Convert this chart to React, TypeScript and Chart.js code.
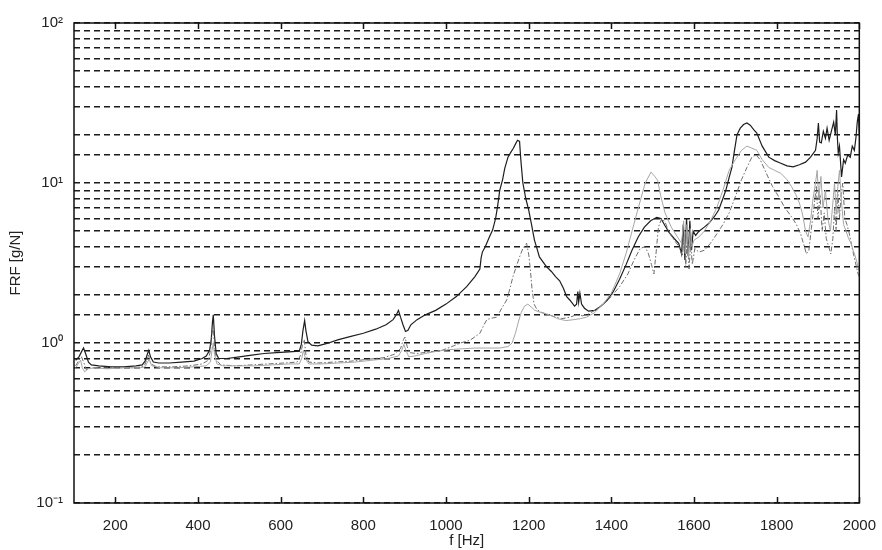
import { useEffect, useRef } from 'react';
import { Chart, registerables } from 'chart.js';

Chart.register(...registerables);

// x axis tick values (Hz)
const xTickValues = [200, 400, 600, 800, 1000, 1200, 1400, 1600, 1800, 2000];
// y axis decades and their labels
const yDecades = [0.1, 1, 10, 100];
const yDecadeLabels = ['10⁻¹', '10⁰', '10¹', '10²'];

// Series values: [frequency Hz, FRF g/N]
const frfBlack: [number, number][] = [
  [104, 0.78], [112, 0.82], [118, 0.88], [123, 0.93], [128, 0.86], [135, 0.76], [142, 0.73], [160, 0.72],
  [190, 0.71], [220, 0.71], [250, 0.72], [265, 0.73], [272, 0.77], [278, 0.86], [281, 0.9], [285, 0.82],
  [292, 0.76], [305, 0.75], [330, 0.75], [360, 0.76], [390, 0.77], [410, 0.8], [420, 0.83], [428, 0.9],
  [432, 1.05], [435, 1.35], [437, 1.5], [440, 1.1], [444, 0.86], [450, 0.8], [470, 0.8], [500, 0.82],
  [530, 0.84], [560, 0.86], [590, 0.87], [620, 0.88], [645, 0.89], [650, 0.98], [654, 1.2], [658, 1.38],
  [661, 1.2], [666, 1.02], [675, 0.97], [690, 0.96], [710, 0.99], [740, 1.05], [770, 1.1], [800, 1.15],
  [830, 1.22], [855, 1.3], [872, 1.4], [880, 1.5], [885, 1.6], [890, 1.45], [896, 1.3], [902, 1.18],
  [908, 1.2], [915, 1.3], [930, 1.4], [950, 1.5], [975, 1.6], [1000, 1.75], [1025, 1.95], [1050, 2.25],
  [1070, 2.6], [1082, 2.9], [1085, 3.4], [1088, 3.7], [1095, 4.0], [1105, 4.6], [1113, 5.1], [1120, 6.0],
  [1125, 7.2], [1130, 9.0], [1137, 10.5], [1142, 12.3], [1150, 14.5], [1157, 15.6], [1163, 16.5], [1168, 17.5],
  [1173, 18.5], [1178, 18.2], [1181, 14], [1186, 10], [1193, 8], [1200, 6.8], [1207, 5.5], [1214, 4.4],
  [1220, 3.9], [1226, 3.45], [1235, 3.2], [1243, 3.0], [1255, 2.8], [1265, 2.6], [1275, 2.45], [1284, 2.2],
  [1292, 1.95], [1300, 1.85], [1311, 1.7], [1316, 1.75], [1319, 2.1], [1321, 1.8], [1324, 2.05], [1328, 1.75],
  [1335, 1.65], [1345, 1.58], [1360, 1.6], [1375, 1.7], [1390, 1.85], [1405, 2.1], [1420, 2.5], [1436, 3.1],
  [1450, 3.8], [1465, 4.6], [1480, 5.3], [1495, 5.8], [1510, 6.1], [1520, 6.0], [1530, 5.4], [1540, 4.9],
  [1552, 4.5], [1563, 4.2], [1570, 3.6], [1574, 5.5], [1578, 3.3], [1582, 6.0], [1586, 3.5], [1590, 5.8],
  [1594, 3.8], [1598, 5.0], [1604, 4.7], [1612, 5.0], [1625, 5.3], [1636, 5.6], [1650, 6.2], [1660, 6.8],
  [1670, 8.0], [1677, 9.0], [1685, 10.8], [1692, 12.6], [1698, 16], [1704, 20], [1712, 22], [1720, 23.2],
  [1728, 23.7], [1736, 23], [1745, 21.5], [1752, 20.5], [1765, 17], [1781, 14.5], [1795, 13.8], [1810, 13.3],
  [1825, 12.8], [1840, 12.6], [1855, 13], [1870, 13.5], [1882, 14.5], [1894, 16], [1898, 19], [1901, 23.7],
  [1904, 18], [1908, 17.8], [1913, 21], [1918, 19], [1922, 22], [1927, 18.5], [1933, 21.4], [1938, 24],
  [1942, 20], [1945, 28.6], [1947, 19], [1949, 15.4], [1952, 17], [1957, 10.9], [1962, 14], [1966, 13.3],
  [1972, 15], [1978, 14.5], [1983, 17], [1988, 16], [1992, 19.4], [1995, 24], [1998, 27], [2000, 20],
];

const frfDashDot: [number, number][] = [
  [104, 0.72], [112, 0.78], [118, 0.82], [124, 0.75], [130, 0.68], [140, 0.7], [170, 0.7], [210, 0.7],
  [250, 0.7], [270, 0.72], [276, 0.78], [280, 0.84], [286, 0.74], [300, 0.71], [340, 0.71], [380, 0.72],
  [410, 0.74], [425, 0.78], [431, 0.92], [434, 1.15], [437, 1.25], [440, 0.95], [445, 0.78], [455, 0.73],
  [490, 0.72], [530, 0.73], [570, 0.74], [610, 0.75], [640, 0.76], [648, 0.84], [653, 0.98], [657, 1.05],
  [661, 0.85], [668, 0.76], [690, 0.75], [730, 0.76], [770, 0.77], [810, 0.79], [850, 0.81], [875, 0.85],
  [890, 0.92], [897, 1.05], [901, 1.09], [906, 0.95], [912, 0.87], [930, 0.86], [960, 0.88], [990, 0.9],
  [1010, 0.94], [1035, 1.0], [1058, 1.04], [1082, 1.15], [1092, 1.3], [1099, 1.4], [1110, 1.43], [1123, 1.45],
  [1135, 1.65], [1147, 1.86], [1155, 2.2], [1162, 2.6], [1170, 3.0], [1178, 3.45], [1186, 3.9], [1195, 4.2],
  [1200, 3.6], [1204, 2.9], [1208, 2.2], [1213, 1.75], [1220, 1.62], [1232, 1.55], [1250, 1.5], [1265, 1.45],
  [1280, 1.42], [1300, 1.45], [1315, 1.5], [1330, 1.48], [1345, 1.52], [1360, 1.6], [1380, 1.75], [1400, 1.95],
  [1420, 2.25], [1440, 2.7], [1455, 3.3], [1470, 3.9], [1482, 4.0], [1490, 3.6], [1497, 3.1], [1503, 2.7],
  [1508, 3.6], [1514, 5.3], [1522, 6.0], [1530, 5.7], [1540, 4.9], [1552, 4.4], [1564, 4.0], [1572, 3.5],
  [1576, 4.8], [1580, 3.0], [1584, 4.5], [1588, 2.9], [1592, 4.2], [1596, 3.1], [1602, 3.9], [1612, 3.7],
  [1625, 3.8], [1640, 4.2], [1655, 4.8], [1670, 5.5], [1685, 6.5], [1700, 8.2], [1715, 10.5], [1728, 12.5],
  [1740, 14.5], [1750, 15], [1760, 14], [1775, 11.5], [1790, 9.5], [1805, 8.2], [1820, 7], [1835, 6.2],
  [1848, 5.5], [1858, 4.8], [1866, 4.1], [1872, 3.6], [1878, 3.8], [1884, 5.2], [1890, 7], [1896, 9.5],
  [1900, 6], [1905, 8.5], [1910, 5], [1915, 6.5], [1920, 4.5], [1926, 4.0], [1931, 3.6], [1936, 4.5],
  [1940, 7], [1944, 5], [1948, 9], [1952, 6], [1956, 8.5], [1960, 10], [1965, 6], [1970, 5.5],
  [1976, 4.8], [1982, 4], [1988, 3.4], [1993, 3.0], [1997, 2.7], [2000, 2.6],
];

const frfLight: [number, number][] = [
  [104, 0.7], [110, 0.74], [116, 0.78], [120, 0.7], [126, 0.66], [134, 0.69], [150, 0.7], [180, 0.69],
  [220, 0.7], [260, 0.7], [272, 0.71], [278, 0.76], [282, 0.79], [288, 0.72], [310, 0.7], [350, 0.7],
  [390, 0.71], [420, 0.72], [430, 0.76], [434, 0.9], [437, 1.0], [440, 0.85], [446, 0.74], [460, 0.72],
  [500, 0.72], [540, 0.72], [580, 0.73], [620, 0.74], [645, 0.74], [651, 0.8], [655, 0.9], [660, 0.8],
  [668, 0.74], [700, 0.74], [740, 0.75], [780, 0.76], [820, 0.78], [860, 0.8], [885, 0.83], [893, 0.9],
  [898, 0.98], [903, 0.9], [910, 0.82], [925, 0.83], [950, 0.86], [980, 0.89], [1010, 0.91], [1040, 0.92],
  [1070, 0.93], [1100, 0.93], [1130, 0.93], [1150, 0.95], [1160, 1.0], [1168, 1.15], [1175, 1.35], [1182, 1.55],
  [1190, 1.7], [1198, 1.75], [1206, 1.68], [1215, 1.6], [1230, 1.55], [1250, 1.5], [1270, 1.42], [1290, 1.38],
  [1310, 1.4], [1325, 1.42], [1340, 1.45], [1360, 1.55], [1380, 1.75], [1400, 2.05], [1420, 2.7], [1436, 3.65],
  [1451, 5.1], [1466, 7.1], [1482, 10], [1496, 11.7], [1505, 11], [1512, 10.4], [1520, 8.2], [1530, 6.5],
  [1545, 5.3], [1560, 4.6], [1570, 4.2], [1575, 5.8], [1579, 3.6], [1583, 5.5], [1587, 3.4], [1591, 5.2],
  [1595, 4.0], [1600, 4.4], [1612, 4.6], [1625, 5.0], [1640, 5.8], [1655, 7.0], [1670, 9], [1685, 12],
  [1700, 14], [1715, 16], [1728, 17], [1740, 16.5], [1752, 16], [1765, 14], [1781, 12.5], [1795, 12],
  [1810, 11.5], [1825, 10.5], [1836, 9.5], [1846, 8.5], [1855, 7.5], [1862, 6.5], [1870, 5], [1876, 4.6],
  [1882, 5.8], [1888, 8], [1894, 10], [1898, 12], [1902, 8], [1907, 11], [1912, 7], [1918, 9],
  [1924, 6], [1930, 5], [1935, 7], [1940, 10], [1944, 6.5], [1948, 9.5], [1952, 12], [1957, 7.5],
  [1962, 5.5], [1968, 5], [1974, 4.5], [1980, 4.2], [1985, 3.8], [1990, 3.5], [1994, 3.2], [1997, 3.0],
  [2000, 2.8],
];

const FONT_FAMILY = '"Liberation Sans", Arial, Helvetica, sans-serif';

export default function App() {
  const canvasRef = useRef<HTMLCanvasElement | null>(null);

  useEffect(() => {
    document.body.style.margin = '0';
    const canvas = canvasRef.current;
    if (!canvas) return;

    const toPoints = (arr: [number, number][]) => arr.map(([x, y]) => ({ x, y }));

    const framePlugin = {
      id: 'frame',
      afterDraw(chart: any) {
        const { ctx, chartArea } = chart;
        const { left, right, top, bottom } = chartArea;
        const xs = chart.scales.x;
        ctx.save();
        ctx.strokeStyle = '#111';
        ctx.lineWidth = 1.5;
        ctx.setLineDash([]);
        ctx.strokeRect(left, top, right - left, bottom - top);
        ctx.beginPath();
        for (const v of xTickValues) {
          const px = Math.round(xs.getPixelForValue(v)) + 0.5;
          ctx.moveTo(px, bottom);
          ctx.lineTo(px, bottom - 6);
          ctx.moveTo(px, top);
          ctx.lineTo(px, top + 6);
        }
        ctx.stroke();
        ctx.restore();
      },
    };

    const chart = new Chart(canvas, {
      type: 'line',
      data: {
        datasets: [
          {
            label: 'light',
            data: toPoints(frfLight),
            borderColor: '#a6a6a6',
            borderWidth: 1,
            pointRadius: 0,
            tension: 0,
            fill: false,
          },
          {
            label: 'dashdot',
            data: toPoints(frfDashDot),
            borderColor: '#6e6e6e',
            borderWidth: 1,
            borderDash: [5, 2, 1.5, 2],
            pointRadius: 0,
            tension: 0,
            fill: false,
          },
          {
            label: 'black',
            data: toPoints(frfBlack),
            borderColor: '#1e1e1e',
            borderWidth: 1.2,
            pointRadius: 0,
            tension: 0,
            fill: false,
          },
        ],
      },
      options: {
        responsive: false,
        animation: false,
        events: [],
        layout: { padding: { left: 0, top: 23, right: 21, bottom: 0 } },
        plugins: {
          legend: { display: false },
          tooltip: { enabled: false },
        },
        scales: {
          x: {
            type: 'linear',
            min: 100,
            max: 2000,
            afterBuildTicks: (scale: any) => {
              scale.ticks = xTickValues.map((v) => ({ value: v }));
            },
            afterFit: (scale: any) => {
              scale.height = 47;
            },
            grid: { display: false },
            border: { display: false },
            ticks: {
              autoSkip: false,
              maxRotation: 0,
              padding: 6,
              color: '#222',
              font: { family: FONT_FAMILY, size: 15 },
              callback: (v: any) => String(v),
            },
            title: {
              display: true,
              text: 'f [Hz]',
              color: '#222',
              font: { family: FONT_FAMILY, size: 15 },
              padding: 0,
            },
          },
          y: {
            type: 'logarithmic',
            min: 0.1,
            max: 100,
            afterFit: (scale: any) => {
              scale.width = 74;
            },
            grid: {
              display: true,
              color: '#1a1a1a',
              lineWidth: 1.4,
              drawTicks: false,
            },
            border: { display: false, dash: [6, 4] },
            ticks: {
              autoSkip: false,
              padding: 11,
              color: '#222',
              font: { family: FONT_FAMILY, size: 15 },
              callback: (v: any) => {
                const val = Number(v);
                const idx = yDecades.findIndex((d) => Math.abs(Math.log10(val) - Math.log10(d)) < 1e-6);
                return idx >= 0 ? yDecadeLabels[idx] : '';
              },
            },
            title: {
              display: true,
              text: 'FRF [g/N]',
              color: '#222',
              font: { family: FONT_FAMILY, size: 15 },
              padding: { top: 7, bottom: 0 },
            },
          },
        },
      },
      plugins: [framePlugin],
    });

    return () => chart.destroy();
  }, []);

  return (
    <div style={{ position: 'absolute', left: 0, top: 0, width: 882, height: 550, background: '#fff' }}>
      <canvas ref={canvasRef} width={882} height={550} />
    </div>
  );
}
